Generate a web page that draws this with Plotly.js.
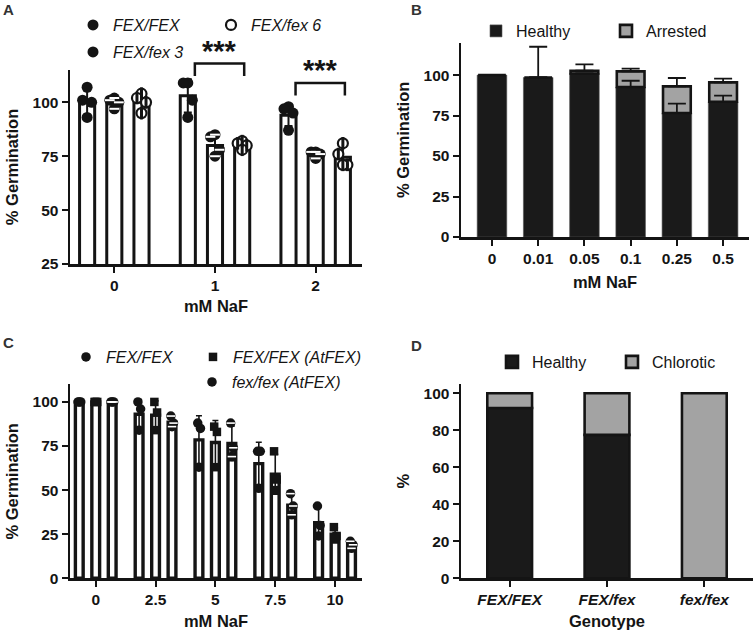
<!DOCTYPE html>
<html><head><meta charset="utf-8">
<script src="https://cdn.plot.ly/plotly-3.0.1.min.js"></script>
<style>html,body{margin:0;padding:0;background:#fff}#chart{width:754px;height:630px}</style>
</head><body><div id="chart"></div>
<script>
// ---------- Panel A data ----------
const aGroups = ['0', '1', '2'];
const aNames = ['FEX/FEX', 'FEX/fex 3', 'FEX/fex 6'];
const aFexFexMean = [100, 103, 94];
const aFex3Mean = [100, 80, 76];
const aFex6Mean = [100, 80, 74.5];
const aFexFexPts = [[107, 101, 100, 93], [109, 109, 101, 93], [98, 97, 95, 87]];
const aFex3Pts = [[102, 101, 100, 97], [85, 84, 78, 75], [77, 77, 76, 74]];
const aFex6Pts = [[104, 102, 100, 95], [82, 81, 80, 78], [81, 76, 71, 71]];
const aSigGroups = [1, 2];
const aSigTop = [118, 109];

// ---------- Panel B data ----------
const bDoses = ['0', '0.01', '0.05', '0.1', '0.25', '0.5'];
const bHealthy = [100, 98.5, 101, 92.6, 76.6, 83.5];
const bArrested = [0, 0, 1.7, 9.7, 16.4, 12];
const bHealthyErr = [0, 19, 0, 3.9, 5.8, 3.8];
const bArrestedErr = [0, 0, 3.9, 1.7, 5.2, 2.3];

// ---------- Panel C data ----------
const cDoses = ['0', '2.5', '5', '7.5', '10'];
const cNames = ['FEX/FEX', 'FEX/FEX (AtFEX)', 'fex/fex (AtFEX)'];
const cFexFexMean = [100, 93, 78.5, 65, 31.5];
const cAtFexMean = [100, 92.5, 77, 59, 25];
const cFexAtMean = [100, 88.5, 76.5, 41.5, 19];
const cFexFexPts = [[100, 100, 100], [100, 96, 84], [88, 85, 63], [72, 72, 51], [41, 30, 24]];
const cAtFexPts = [[100, 100, 100], [100, 94, 84], [86, 83, 63], [72, 56, 50], [29, 24, 22]];
const cFexAtPts = [[100, 100, 100], [92, 88, 86], [88, 74, 69], [48, 41, 36], [21, 19, 17]];

// ---------- Panel D data ----------
const dGenotypes = ['FEX/FEX', 'FEX/fex', 'fex/fex'];
const dHealthy = [92, 77.5, 0];
const dChlorotic = [8, 22.5, 100];

// ---------- layout helpers ----------
const W = 754, H = 630;
const FONT = 'Liberation Sans, Arial, Helvetica, sans-serif';
const INK = '#141414';
const GRAY = '#a3a3a3';

function sd(arr) {
  const m = arr.reduce((a, b) => a + b, 0) / arr.length;
  const v = arr.reduce((a, b) => a + (b - m) * (b - m), 0) / (arr.length - 1);
  return Math.sqrt(v);
}

const dom = {
  A: { x: [70 / W, 362 / W], y: [1 - 264 / H, 1 - 70 / H], xr: [-0.44, 2.46], yr: [25, 115] },
  B: { x: [461 / W, 749 / W], y: [1 - 237 / H, 1 - 42.7 / H], xr: [-0.67, 5.56], yr: [0, 120] },
  C: { x: [70 / W, 362 / W], y: [1 - 578.3 / H, 1 - 384.3 / H], xr: [-0.43, 4.45], yr: [0, 110] },
  D: { x: [461 / W, 753 / W], y: [1 - 578.3 / H, 1 - 384 / H], xr: [-0.5, 2.5], yr: [0, 105] }
};
function toPX(p, v) { const d = dom[p]; return d.x[0] + (v - d.xr[0]) / (d.xr[1] - d.xr[0]) * (d.x[1] - d.x[0]); }
function toPY(p, v) { const d = dom[p]; return d.y[0] + (v - d.yr[0]) / (d.yr[1] - d.yr[0]) * (d.y[1] - d.y[0]); }

function axis(p, which, extra) {
  const d = dom[p];
  return Object.assign({
    domain: which === 'x' ? d.x : d.y,
    range: which === 'x' ? d.xr : d.yr,
    showgrid: false, zeroline: false, showline: true, linecolor: INK, linewidth: 2.5,
    ticks: 'outside', ticklen: 6, tickwidth: 2, tickcolor: INK,
    tickfont: { family: FONT, size: 15.5, weight: 'bold', color: INK },
    fixedrange: true
  }, extra);
}
function atitle(text, standoff, extraFont) {
  return { text: text, standoff: standoff, font: Object.assign({ family: FONT, size: 16.5, weight: 'bold', color: INK }, extraFont || {}) };
}

const traces = [];

// ---------- Panel A traces ----------
const A_OFF = 0.27, A_BW = 0.15;
const aJit = [0, -0.045, 0.045, 0];
const aSeries = [
  { name: aNames[0], mean: aFexFexMean, pts: aFexFexPts, kind: 'full', legend: 'legend' },
  { name: aNames[1], mean: aFex3Mean, pts: aFex3Pts, kind: 'hline', legend: 'legend3' },
  { name: aNames[2], mean: aFex6Mean, pts: aFex6Pts, kind: 'vhalf', legend: 'legend2' }
];
aSeries.forEach((s, si) => {
  const xs = aGroups.map((g, i) => i + (si - 1) * A_OFF);
  traces.push({
    type: 'bar', x: xs, y: s.mean, width: A_BW, xaxis: 'x', yaxis: 'y', showlegend: false,
    marker: { color: 'white', line: { color: INK, width: 3 } },
    error_y: { type: 'data', array: s.pts.map(sd), color: INK, thickness: 2, width: 4 },
    hoverinfo: 'skip'
  });
  const px = [], py = [];
  s.pts.forEach((arr, i) => {
    const sorted = arr.slice().sort((a, b) => b - a);
    sorted.forEach((v, k) => { px.push(xs[i] + aJit[k % aJit.length]); py.push(v); });
  });
  const base = { type: 'scatter', mode: 'markers', x: px, y: py, xaxis: 'x', yaxis: 'y', cliponaxis: false, hoverinfo: 'skip' };
  if (s.kind === 'full') {
    traces.push(Object.assign({}, base, { name: s.name, legend: s.legend, marker: { symbol: 'circle', size: 11, color: INK, line: { width: 0 } } }));
  } else if (s.kind === 'hline') {
    traces.push(Object.assign({}, base, { name: s.name, legend: s.legend, marker: { symbol: 'circle', size: 11, color: INK, line: { width: 0 } } }));
    traces.push(Object.assign({}, base, { showlegend: false, marker: { symbol: 'line-ew', size: 7, color: 'white', line: { color: 'white', width: 2 } } }));
  } else {
    traces.push(Object.assign({}, base, { name: s.name, legend: s.legend, marker: { symbol: 'circle', size: 10, color: 'white', line: { color: INK, width: 2.2 } } }));
    traces.push(Object.assign({}, base, { showlegend: false, marker: { symbol: 'line-ns', size: 9, color: INK, line: { color: INK, width: 3 } } }));
  }
});

// ---------- Panel B traces ----------
const bX = bDoses.map((d, i) => i);
traces.push({
  type: 'bar', name: 'Healthy', x: bX, y: bHealthy, width: 0.64, xaxis: 'x2', yaxis: 'y2', legend: 'legend4',
  marker: { color: '#1a1a1a', line: { color: '#555', width: 0.6 } },
  hoverinfo: 'skip'
});
traces.push({
  type: 'bar', name: 'Arrested', x: bX, y: bArrested, base: bHealthy, width: 0.6, xaxis: 'x2', yaxis: 'y2', legend: 'legend5',
  marker: { color: GRAY, line: { color: INK, width: 2.6 } },
  error_y: { type: 'data', symmetric: false, array: bArrestedErr, arrayminus: bArrestedErr.map(() => 0), color: INK, thickness: 1.8, width: 9 },
  hoverinfo: 'skip'
});
// Healthy error bars drawn on top of the stacked segments
traces.push({
  type: 'scatter', mode: 'markers', x: bX, y: bHealthy, xaxis: 'x2', yaxis: 'y2', showlegend: false,
  marker: { size: 1, opacity: 0 }, cliponaxis: false,
  error_y: { type: 'data', symmetric: false, array: bHealthyErr, arrayminus: bHealthyErr.map(() => 0), color: INK, thickness: 1.8, width: 9 },
  hoverinfo: 'skip'
});

// ---------- Panel C traces ----------
const C_OFF = 0.275, C_BW = 0.13;
const cJit = [-0.02, 0.025, 0];
const cSeries = [
  { name: cNames[0], mean: cFexFexMean, pts: cFexFexPts, kind: 'circle', legend: 'legend6' },
  { name: cNames[1], mean: cAtFexMean, pts: cAtFexPts, kind: 'square', legend: 'legend7' },
  { name: cNames[2], mean: cFexAtMean, pts: cFexAtPts, kind: 'hline', legend: 'legend8' }
];
cSeries.forEach((s, si) => {
  const xs = cDoses.map((g, i) => i + (si - 1) * C_OFF);
  traces.push({
    type: 'bar', x: xs, y: s.mean, width: C_BW, xaxis: 'x3', yaxis: 'y3', showlegend: false,
    marker: { color: 'white', line: { color: INK, width: 3.4 } },
    error_y: { type: 'data', array: s.pts.map(sd), color: INK, thickness: 1.6, width: 3 },
    hoverinfo: 'skip'
  });
  const px = [], py = [];
  s.pts.forEach((arr, i) => arr.forEach((v, k) => { px.push(xs[i] + cJit[k % cJit.length]); py.push(v); }));
  const base = { type: 'scatter', mode: 'markers', x: px, y: py, xaxis: 'x3', yaxis: 'y3', cliponaxis: false, hoverinfo: 'skip' };
  if (s.kind === 'square') {
    traces.push(Object.assign({}, base, { name: s.name, legend: s.legend, marker: { symbol: 'square', size: 8.5, color: INK, line: { width: 0 } } }));
  } else {
    traces.push(Object.assign({}, base, { name: s.name, legend: s.legend, marker: { symbol: 'circle', size: 9.5, color: INK, line: { width: 0 } } }));
    if (s.kind === 'hline') {
      traces.push(Object.assign({}, base, { showlegend: false, marker: { symbol: 'line-ew', size: 6, color: 'white', line: { color: 'white', width: 1.6 } } }));
    }
  }
});

// ---------- Panel D traces ----------
const dX = dGenotypes.map((g, i) => i);
traces.push({
  type: 'bar', name: 'Healthy', x: dX, y: dHealthy, width: 0.46, xaxis: 'x4', yaxis: 'y4', legend: 'legend9',
  marker: { color: '#1a1a1a', line: { color: INK, width: 2.6 } }, hoverinfo: 'skip'
});
traces.push({
  type: 'bar', name: 'Chlorotic', x: dX, y: dChlorotic, base: dHealthy, width: 0.46, xaxis: 'x4', yaxis: 'y4', legend: 'legend10',
  marker: { color: GRAY, line: { color: INK, width: 2.6 } }, hoverinfo: 'skip'
});

// ---------- legends ----------
function leg(textStartPx, cyPx, italic) {
  return {
    x: (textStartPx - 40) / W, y: 1 - cyPx / H, xanchor: 'left', yanchor: 'middle',
    bgcolor: 'rgba(0,0,0,0)', borderwidth: 0, itemclick: false, itemdoubleclick: false,
    font: { family: FONT, size: 16, color: INK, style: italic ? 'italic' : 'normal' }
  };
}

// ---------- annotations & shapes ----------
const annotations = [];
const shapes = [];
[['A', 8, 10], ['B', 416, 10], ['C', 8, 342], ['D', 416, 345]].forEach(l => {
  annotations.push({ text: l[0], xref: 'paper', yref: 'paper', x: l[1] / W, y: 1 - l[2] / H, xanchor: 'center', yanchor: 'middle', showarrow: false, font: { family: FONT, size: 15, weight: 'bold', color: '#333' } });
});
aSigGroups.forEach((g, i) => {
  const x0 = toPX('A', g - 0.2), x1 = toPX('A', g + 0.29);
  const yt = toPY('A', aSigTop[i]), yl = toPY('A', aSigTop[i] - 5.8);
  shapes.push({ type: 'path', xref: 'paper', yref: 'paper', path: `M ${x0},${yl} L ${x0},${yt} L ${x1},${yt} L ${x1},${yl}`, line: { color: INK, width: 2.5 } });
  annotations.push({ text: '***', xref: 'paper', yref: 'paper', x: (x0 + x1) / 2, y: yt, xanchor: 'center', yanchor: 'bottom', yshift: -5, showarrow: false, font: { family: FONT, size: 29, weight: 'bold', color: INK } });
});

const layout = {
  width: W, height: H, margin: { l: 0, r: 0, t: 0, b: 0 }, paper_bgcolor: 'white', plot_bgcolor: 'white',
  barmode: 'overlay', showlegend: true, font: { family: FONT, color: INK },
  xaxis: axis('A', 'x', { anchor: 'y', tickvals: aGroups.map((g, i) => i), ticktext: aGroups, title: atitle('mM NaF', 8) }),
  yaxis: axis('A', 'y', { anchor: 'x', tickvals: [25, 50, 75, 100], title: atitle('% Germination', 10) }),
  xaxis2: axis('B', 'x', { anchor: 'y2', tickvals: bX, ticktext: bDoses, title: atitle('mM NaF', 11) }),
  yaxis2: axis('B', 'y', { anchor: 'x2', tickvals: [0, 25, 50, 75, 100], title: atitle('% Germination', 10) }),
  xaxis3: axis('C', 'x', { anchor: 'y3', tickvals: cDoses.map((g, i) => i), ticktext: cDoses, title: atitle('mM NaF', 10) }),
  yaxis3: axis('C', 'y', { anchor: 'x3', tickvals: [0, 25, 50, 75, 100], title: atitle('% Germination', 10) }),
  xaxis4: axis('D', 'x', { anchor: 'y4', tickvals: dX, ticktext: dGenotypes, tickfont: { family: FONT, size: 15.5, weight: 'bold', style: 'italic', color: INK }, title: atitle('Genotype', 10) }),
  yaxis4: axis('D', 'y', { anchor: 'x4', tickvals: [0, 20, 40, 60, 80, 100], title: atitle('%', 10) }),
  legend: leg(113, 25, true),
  legend2: leg(251, 25, true),
  legend3: leg(113, 52, true),
  legend4: leg(516, 31, false),
  legend5: leg(646, 31, false),
  legend6: leg(106, 357, true),
  legend7: leg(233, 357, true),
  legend8: leg(232, 382, true),
  legend9: leg(532, 362, false),
  legend10: leg(652, 362, false),
  annotations: annotations,
  shapes: shapes
};

Plotly.newPlot('chart', traces, layout, { staticPlot: true, displayModeBar: false });
</script>
</body></html>
